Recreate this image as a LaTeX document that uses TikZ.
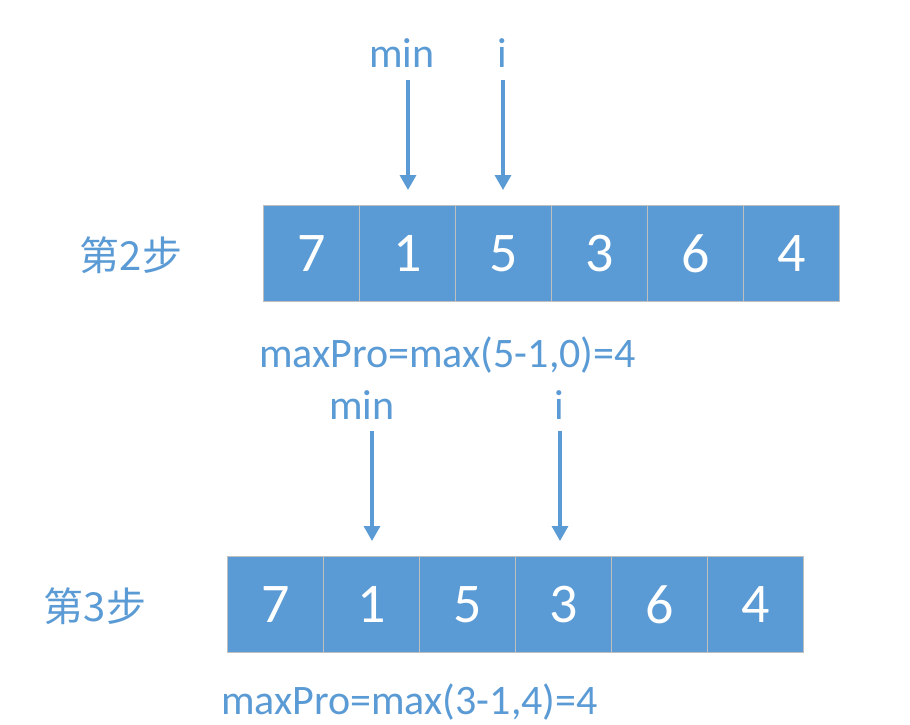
\documentclass[tikz,border=0pt]{standalone}
\usepackage{fontspec}
\setmainfont{Carlito}
\newfontfamily\cjk{Noto Sans CJK SC}
\usetikzlibrary{arrows.meta}
\definecolor{blu}{HTML}{5B9BD5}
\definecolor{edge}{HTML}{BFBFBF}
\begin{document}
\begin{tikzpicture}[x=1pt,y=-1pt,
  cell/.style={draw=edge,line width=1.2pt,fill=blu,minimum width=96pt,minimum height=96pt,inner sep=0pt,text=white,font=\fontsize{56}{56}\selectfont,anchor=north west},
  lbl/.style={text=blu,font=\fontsize{42}{42}\selectfont,inner sep=0pt},
  steplbl/.style={text=blu,font=\cjk\fontsize{40}{40}\selectfont,inner sep=0pt},
  arr/.style={draw=blu,line width=3.2pt,-{Triangle[length=15pt,width=16pt]}}]
\useasboundingbox[fill=white] (0,0) rectangle (910,725);
% step 2
\node[steplbl] (s2) at (131,255) {第2步};
\foreach \v [count=\k from 0] in {7,1,5,3,6,4}{
  \node[cell] (t\k) at (263+96*\k,205) {\v};
}
\node[lbl,anchor=base] (tmin) at (402,67) {min};
\node[lbl,anchor=base] (ti) at (502,67) {i};
\coordinate (tmina) at (408,80);
\coordinate (tminb) at (408,190);
\coordinate (tia) at (503,80);
\coordinate (tib) at (503,190);
\draw[arr] (tmina) -- (tminb);
\draw[arr] (tia) -- (tib);
\node[lbl,anchor=base west] (tm) at (259,367) {maxPro=max(5-1,0)=4};
% step 3
\node[steplbl] (s3) at (95,606) {第3步};
\foreach \v [count=\k from 0] in {7,1,5,3,6,4}{
  \node[cell] (b\k) at (227+96*\k,556) {\v};
}
\node[lbl,anchor=base] (bmin) at (362,419) {min};
\node[lbl,anchor=base] (bi) at (559,419) {i};
\coordinate (bmina) at (372,431);
\coordinate (bminb) at (372,541);
\coordinate (bia) at (560,431);
\coordinate (bib) at (560,541);
\draw[arr] (bmina) -- (bminb);
\draw[arr] (bia) -- (bib);
\node[lbl,anchor=base west] (bm) at (221,714) {maxPro=max(3-1,4)=4};
\end{tikzpicture}
\end{document}
